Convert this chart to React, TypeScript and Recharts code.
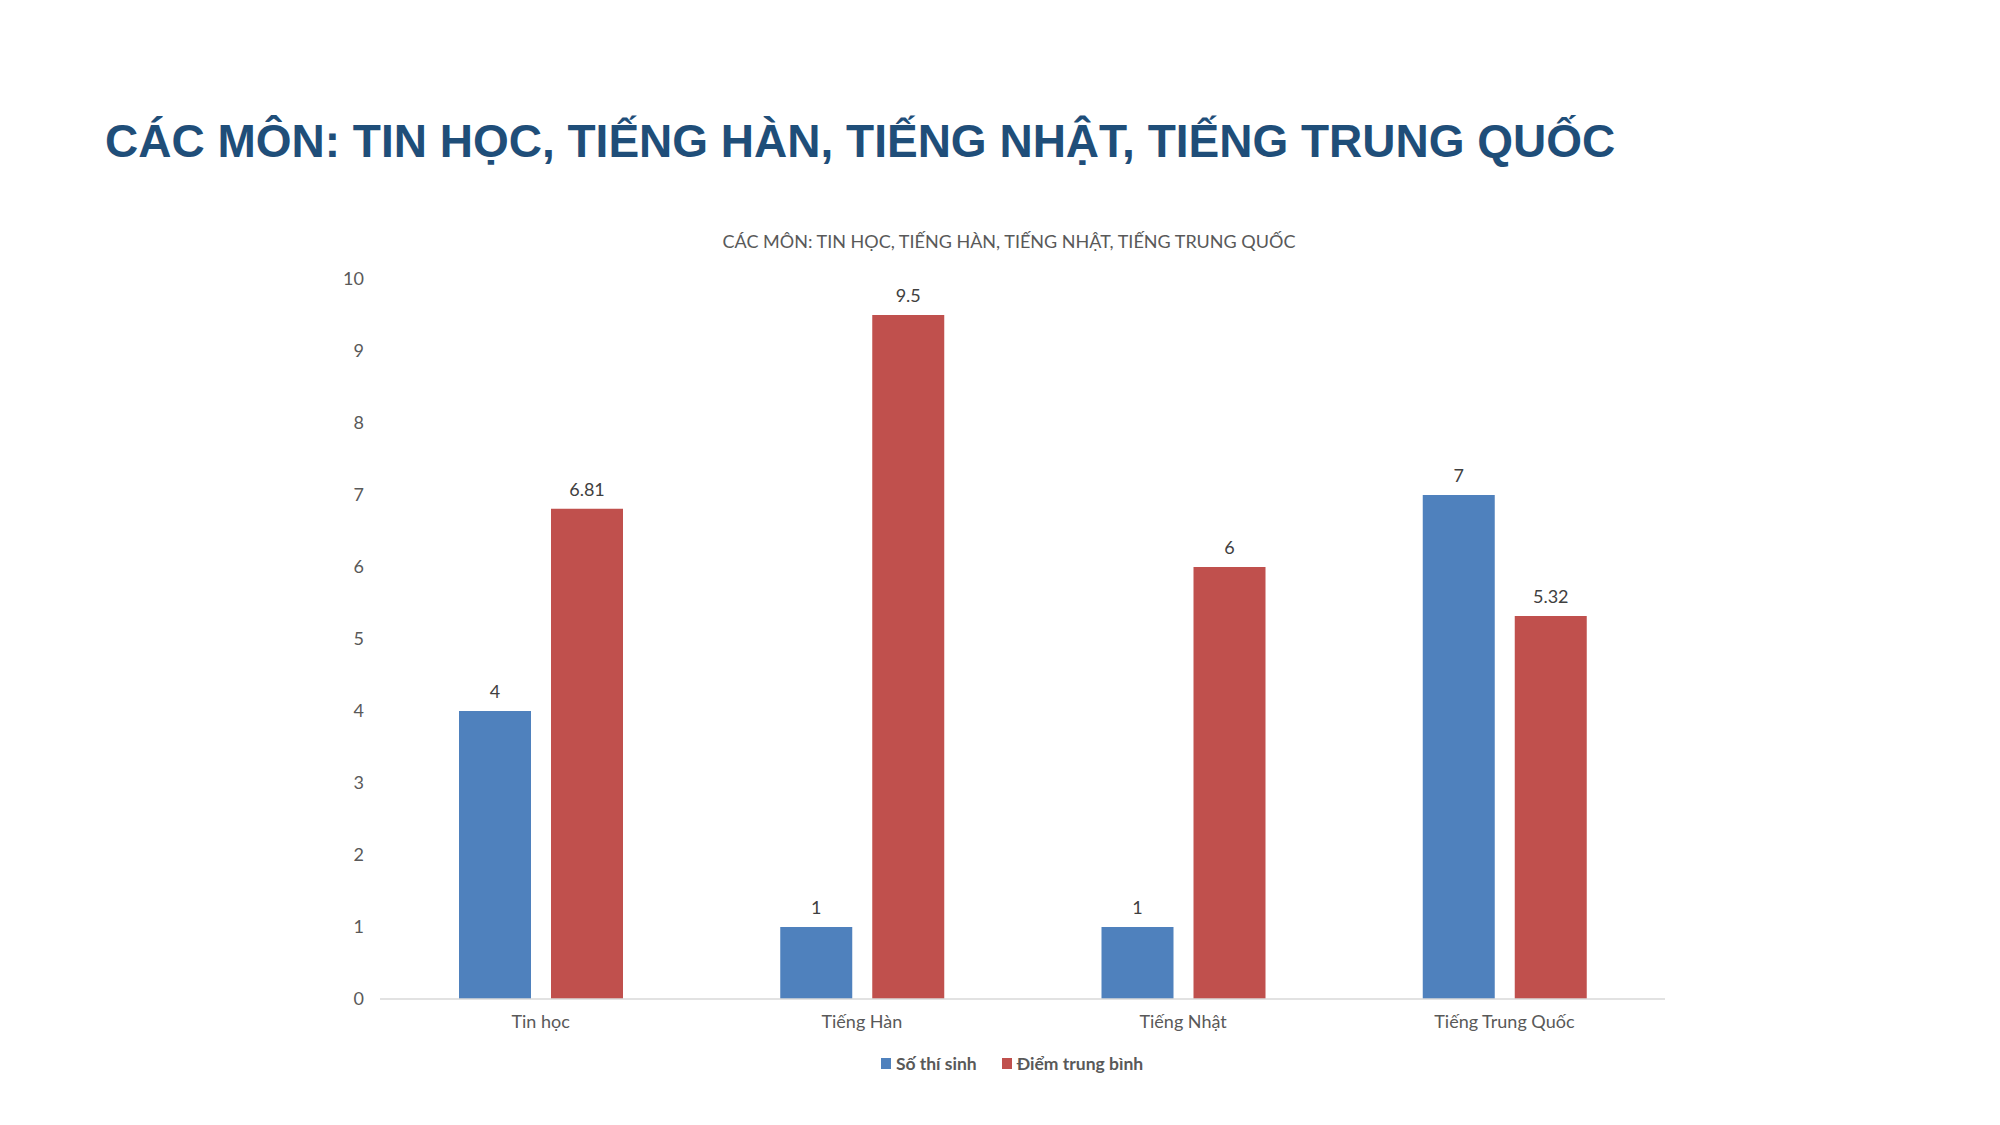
import { BarChart, Bar, XAxis, YAxis, Legend, LabelList } from 'recharts';

const subjects = ['Tin học', 'Tiếng Hàn', 'Tiếng Nhật', 'Tiếng Trung Quốc'];
const candidateCounts = [4, 1, 1, 7];
const averageScores = [6.81, 9.5, 6, 5.32];
const yTicks = [0, 1, 2, 3, 4, 5, 6, 7, 8, 9, 10];

const pageTitle = 'CÁC MÔN: TIN HỌC, TIẾNG HÀN, TIẾNG NHẬT, TIẾNG TRUNG QUỐC';
const chartTitle = 'CÁC MÔN: TIN HỌC, TIẾNG HÀN, TIẾNG NHẬT, TIẾNG TRUNG QUỐC';

const chartData = subjects.map((name, i) => ({
  name,
  count: candidateCounts[i],
  score: averageScores[i]
}));

const FONT = 'Lato, "Noto Sans", sans-serif';

const renderLegend = (props: any) => {
  const items = props.payload || [];
  return (
    <div style={{ display: 'flex', justifyContent: 'center', alignItems: 'center', fontFamily: FONT }}>
      {items.map((item: any, i: number) => (
        <div
          key={item.value}
          style={{ display: 'flex', alignItems: 'center', marginLeft: i === 0 ? 0 : 25 }}
        >
          <span style={{ display: 'inline-block', width: 10, height: 11, background: item.color, marginRight: 5 }} />
          <span style={{ color: '#595959', fontWeight: 700, fontSize: 17.5 }}>{item.value}</span>
        </div>
      ))}
    </div>
  );
};

const App = () => {
  return (
    <div style={{ position: 'absolute', left: 0, top: 0, width: 2000, height: 1125, background: '#fff' }}>
      <svg width={2000} height={300} style={{ position: 'absolute', left: 0, top: 0, pointerEvents: 'none' }}>
        <text
          x={105}
          y={157}
          fill="#1F4E79"
          fontFamily='"Liberation Sans", Arial, sans-serif'
          fontWeight={700}
          fontSize={46}
        >
          {pageTitle}
        </text>
        <text x={1009} y={248} textAnchor="middle" fill="#595959" fontFamily={FONT} fontSize={18}>
          {chartTitle}
        </text>
      </svg>
      <div style={{ position: 'absolute', left: 0, top: 0 }}>
        <BarChart
          width={2000}
          height={1125}
          data={chartData}
          margin={{ top: 279, right: 335, bottom: 86, left: 320 }}
          barSize={72}
          barGap={20}
        >
          <XAxis
            dataKey="name"
            height={40}
            tickLine={false}
            tickSize={0}
            tickMargin={16}
            axisLine={{ stroke: '#D9D9D9', strokeWidth: 1.5 }}
            tick={{ fill: '#595959', fontSize: 18, fontFamily: FONT }}
          />
          <YAxis
            width={60}
            domain={[0, 10]}
            ticks={yTicks}
            interval={0}
            axisLine={false}
            tickLine={false}
            tickSize={0}
            tickMargin={16}
            tick={{ fill: '#595959', fontSize: 18, fontFamily: FONT }}
          />
          <Legend
            verticalAlign="middle"
            align="center"
            content={renderLegend}
            wrapperStyle={{ top: 1053, left: 12, width: 2000 }}
          />
          <Bar dataKey="count" name="Số thí sinh" fill="#4F81BD" isAnimationActive={false}>
            <LabelList dataKey="count" position="top" offset={13} fill="#404040" fontSize={18} fontFamily={FONT} />
          </Bar>
          <Bar dataKey="score" name="Điểm trung bình" fill="#C0504D" isAnimationActive={false}>
            <LabelList dataKey="score" position="top" offset={13} fill="#404040" fontSize={18} fontFamily={FONT} />
          </Bar>
        </BarChart>
      </div>
    </div>
  );
};

export default App;
